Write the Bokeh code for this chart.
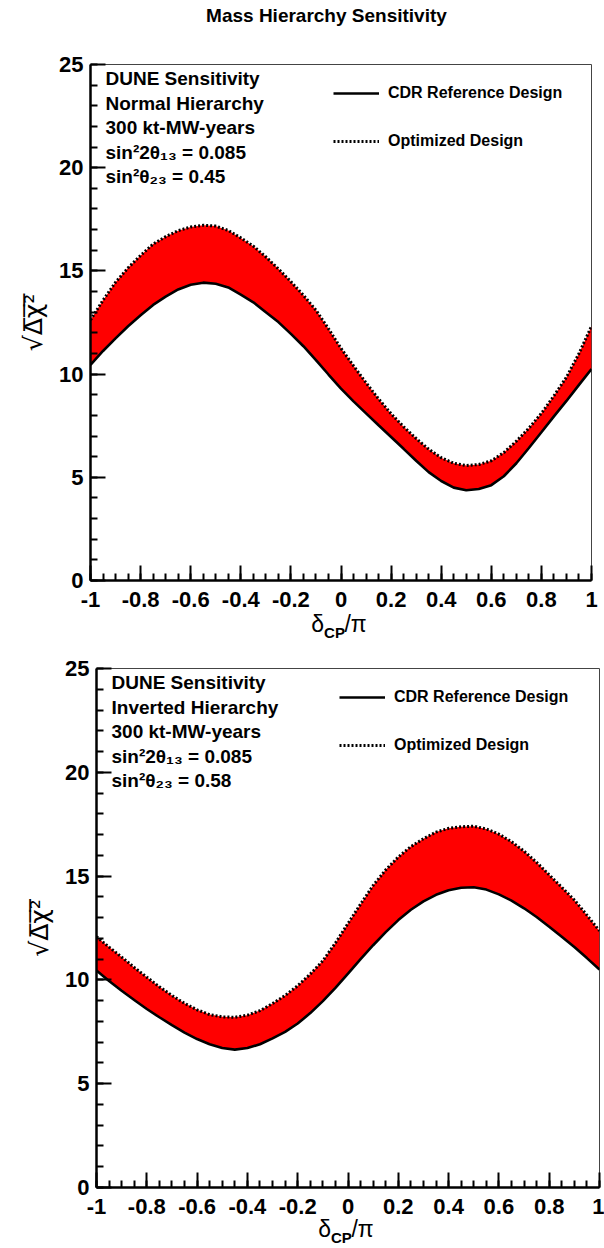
import math
from bokeh.plotting import figure
from bokeh.models import Range1d, FixedTicker, Label, Legend, LegendItem, LinearAxis
from bokeh.layouts import column
from bokeh.embed import file_html
from bokeh.resources import INLINE

# ---------------- data ----------------
delta_cp = [-1.0, -0.95, -0.9, -0.85, -0.8, -0.75, -0.7, -0.65, -0.6, -0.55, -0.5,
            -0.45, -0.4, -0.35, -0.3, -0.25, -0.2, -0.15, -0.1, -0.05, 0.0,
            0.05, 0.1, 0.15, 0.2, 0.25, 0.3, 0.35, 0.4, 0.45, 0.5,
            0.55, 0.6, 0.65, 0.7, 0.75, 0.8, 0.85, 0.9, 0.95, 1.0]

nh_cdr = [10.45, 11.12, 11.73, 12.32, 12.85, 13.35, 13.75, 14.10, 14.33, 14.43, 14.38,
          14.20, 13.85, 13.48, 13.00, 12.52, 11.95, 11.35, 10.68, 9.98, 9.30,
          8.68, 8.10, 7.52, 6.95, 6.38, 5.80, 5.25, 4.82, 4.50, 4.37,
          4.43, 4.62, 5.05, 5.68, 6.42, 7.18, 7.95, 8.70, 9.48, 10.25]

nh_opt = [12.62, 13.58, 14.45, 15.15, 15.75, 16.30, 16.66, 16.95, 17.13, 17.21, 17.17,
          16.96, 16.60, 16.20, 15.68, 15.10, 14.48, 13.82, 13.10, 12.20, 11.25,
          10.40, 9.58, 8.80, 8.08, 7.45, 6.88, 6.36, 5.95, 5.68, 5.57,
          5.62, 5.80, 6.20, 6.75, 7.38, 8.10, 8.95, 9.85, 11.00, 12.32]

ih_cdr = [10.45, 9.95, 9.48, 9.03, 8.60, 8.20, 7.82, 7.46, 7.15, 6.90, 6.72,
          6.64, 6.72, 6.90, 7.18, 7.50, 7.90, 8.40, 8.98, 9.62, 10.30,
          11.00, 11.67, 12.30, 12.88, 13.38, 13.78, 14.10, 14.32, 14.44, 14.46,
          14.35, 14.12, 13.82, 13.45, 13.03, 12.56, 12.08, 11.58, 11.05, 10.50]

ih_opt = [12.08, 11.58, 11.10, 10.60, 10.13, 9.67, 9.25, 8.87, 8.56, 8.33, 8.22,
          8.20, 8.30, 8.52, 8.86, 9.25, 9.72, 10.28, 10.92, 11.78, 12.72,
          13.65, 14.55, 15.30, 15.92, 16.42, 16.80, 17.12, 17.30, 17.38, 17.40,
          17.27, 17.02, 16.66, 16.20, 15.66, 15.06, 14.46, 13.85, 13.12, 12.36]

y_ticks = [0, 5, 10, 15, 20, 25]
y_minor_ticks = list(range(0, 26))
x_ticks = [-1.0, -0.8, -0.6, -0.4, -0.2, 0.0, 0.2, 0.4, 0.6, 0.8, 1.0]
x_tick_labels = ["-1", "-0.8", "-0.6", "-0.4", "-0.2", "0", "0.2", "0.4", "0.6", "0.8", "1"]
x_minor_ticks = [round(-1.0 + 0.05 * i, 2) for i in range(41)]

title_text = "Mass Hierarchy Sensitivity"
legend_labels = ["CDR Reference Design", "Optimized Design"]
x_title_parts = ["\u03b4", "CP", "/\u03c0"]
y_title_text = "\u221a\u0394\u0305\u03c7\u0305\u00b2\u0305"
nh_texts = ["DUNE Sensitivity", "Normal Hierarchy", "300 kt-MW-years",
            "sin\u00b22\u03b8\u2081\u2083 = 0.085", "sin\u00b2\u03b8\u2082\u2083 = 0.45"]
ih_texts = ["DUNE Sensitivity", "Inverted Hierarchy", "300 kt-MW-years",
            "sin\u00b22\u03b8\u2081\u2083 = 0.085", "sin\u00b2\u03b8\u2082\u2083 = 0.58"]

FONT = "Liberation Sans"


def bare_axis(ax):
    ax.axis_line_color = None
    ax.major_tick_line_color = None
    ax.minor_tick_line_color = None
    ax.major_tick_in = 0
    ax.major_tick_out = 0
    ax.minor_tick_in = 0
    ax.minor_tick_out = 0
    ax.major_label_text_color = "black"


def make_panel(height, b_top, b_bottom, b_left, b_right, cdr, opt, texts, s_delta):
    width = 604
    fh = height - b_top - b_bottom
    p = figure(width=width, height=height, x_range=Range1d(-1, 1), y_range=Range1d(0, 25),
               output_backend="svg", toolbar_location=None, title=None,
               min_border_top=b_top, min_border_bottom=b_bottom,
               min_border_left=b_left, min_border_right=b_right)
    p.frame_align = False
    p.grid.visible = False
    p.outline_line_color = "#444444"
    p.outline_line_width = 1
    p.background_fill_color = "white"
    p.border_fill_color = "white"

    p.varea(x=delta_cp, y1=cdr, y2=opt, fill_color="#ff0000", fill_alpha=1.0)
    r_cdr = p.line(delta_cp, cdr, line_color="black", line_width=2.6)
    r_opt = p.line(delta_cp, opt, line_color="black", line_width=3, line_dash="2 2")

    # main axes
    p.xaxis.ticker = FixedTicker(ticks=x_ticks, minor_ticks=x_minor_ticks)
    p.yaxis.ticker = FixedTicker(ticks=y_ticks, minor_ticks=y_minor_ticks)
    p.xaxis.major_label_overrides = {t: s for t, s in zip(x_ticks, x_tick_labels)}
    for ax in (p.xaxis, p.yaxis):
        ax.axis_line_width = 2.5
        ax.axis_line_color = "black"
        ax.major_tick_in = 15
        ax.major_tick_out = 0
        ax.minor_tick_in = 7
        ax.minor_tick_out = 0
        ax.major_tick_line_width = 2
        ax.minor_tick_line_width = 2
        ax.major_tick_line_color = "black"
        ax.minor_tick_line_color = "black"
        ax.major_label_text_font = FONT
        ax.major_label_text_font_style = "bold"
        ax.major_label_text_font_size = "22px"
        ax.major_label_text_color = "black"
    p.xaxis.major_label_standoff = 11
    p.yaxis.major_label_standoff = 7

    # y axis title  sqrt(Delta chi^2)
    p.yaxis.axis_label = y_title_text
    p.yaxis.axis_label_text_font = "DejaVu Sans"
    p.yaxis.axis_label_text_font_style = "normal"
    p.yaxis.axis_label_text_font_size = "25px"
    p.yaxis.axis_label_text_color = "black"
    p.yaxis.axis_label_standoff = 8

    # x axis title  delta_CP / pi  (label-only axes below)
    xa1 = LinearAxis(ticker=FixedTicker(ticks=[-0.093, 0.058]))
    bare_axis(xa1)
    xa1.major_label_overrides = {-0.093: x_title_parts[0], 0.058: x_title_parts[2]}
    xa1.major_label_text_font = FONT
    xa1.major_label_text_font_size = "23px"
    xa1.major_label_standoff = s_delta
    p.add_layout(xa1, "below")
    xa2 = LinearAxis(ticker=FixedTicker(ticks=[-0.026]))
    bare_axis(xa2)
    xa2.major_label_overrides = {-0.026: x_title_parts[1]}
    xa2.major_label_text_font = FONT
    xa2.major_label_text_font_style = "bold"
    xa2.major_label_text_font_size = "15px"
    xa2.major_label_standoff = -16
    p.add_layout(xa2, "below")

    # info text block
    for t, dy in zip(texts, [15, 39.5, 64, 88.5, 113]):
        p.add_layout(Label(x=15, y=fh - dy, x_units="screen", y_units="screen", text=t,
                           text_font=FONT, text_font_style="bold", text_font_size="19px",
                           text_baseline="alphabetic", text_align="left", text_color="black"))

    # legend
    legend = Legend(items=[LegendItem(label=legend_labels[0], renderers=[r_cdr]),
                           LegendItem(label=legend_labels[1], renderers=[r_opt])],
                    location=(243, fh - 87.5), orientation="vertical",
                    glyph_width=46, glyph_height=20, label_height=20, spacing=28,
                    label_standoff=9, padding=0, margin=0,
                    border_line_alpha=0, background_fill_alpha=0,
                    label_text_font=FONT, label_text_font_style="bold",
                    label_text_font_size="16px", label_text_color="black")
    p.add_layout(legend)
    return p


top = make_panel(643, 64, 62, 90, 13, nh_cdr, nh_opt, nh_texts, 1)
ta = LinearAxis(ticker=FixedTicker(ticks=[-0.058]))
bare_axis(ta)
ta.major_label_overrides = {-0.058: title_text}
ta.major_label_text_font = FONT
ta.major_label_text_font_style = "bold"
ta.major_label_text_font_size = "19px"
ta.major_label_standoff = 39
top.add_layout(ta, "above")

bottom = make_panel(605, 25, 60, 96, 5, ih_cdr, ih_opt, ih_texts, -1)

layout = column(top, bottom, spacing=0)
open("out.html", "w").write(file_html(layout, INLINE))
